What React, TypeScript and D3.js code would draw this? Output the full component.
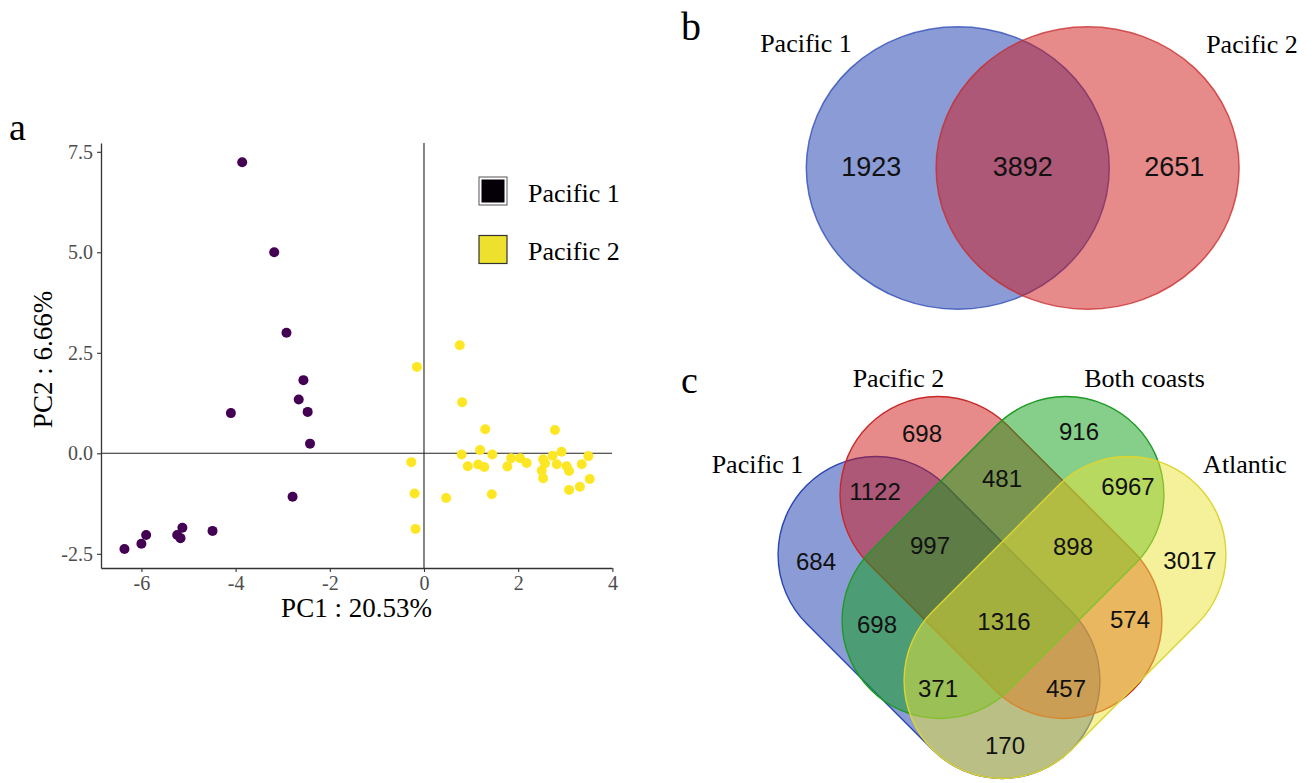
import * as d3 from 'd3';
import { useEffect, useRef } from 'react';

// panel a: PCA scores (PC1, PC2)
const pacific1PC1 = [-3.86, -3.18, -2.92, -2.56, -2.66, -2.47, -2.42, -4.10, -2.79, -4.49, -5.13, -5.24, -5.17, -5.90, -6.00, -6.36];
const pacific1PC2 = [7.24, 5.0, 3.0, 1.82, 1.34, 1.03, 0.24, 1.0, -1.08, -1.93, -1.85, -2.03, -2.11, -2.03, -2.25, -2.38];
const pacific2PC1 = [0.76, -0.15, 0.81, 1.30, 0.80, 1.19, 1.45, 0.93, 1.15, 1.28, -0.27, -0.20, 0.47, 1.44, -0.18, 1.77, 1.85, 2.04, 2.18, 2.78, 2.92, 2.73, 2.53, 2.57, 2.50, 2.53, 2.82, 3.03, 3.08, 3.35, 3.49, 3.52, 3.31, 3.08];
const pacific2PC2 = [2.69, 2.15, 1.27, 0.60, -0.03, 0.08, -0.03, -0.32, -0.28, -0.34, -0.22, -1.0, -1.11, -1.02, -1.88, -0.33, -0.12, -0.12, -0.24, 0.58, 0.04, -0.06, -0.15, -0.25, -0.43, -0.62, -0.27, -0.32, -0.44, -0.27, -0.07, -0.64, -0.83, -0.91];
const groupNames = ['Pacific 1', 'Pacific 2'];
const xTicks = [-6, -4, -2, 0, 2, 4];
const yTicks = [-2.5, 0, 2.5, 5, 7.5];
const xTitle = 'PC1 : 20.53%';
const yTitle = 'PC2 : 6.66%';

// panel b: two-set venn
const pairSets = ['Pacific 1', 'Pacific 2'];
const pairCounts = [1923, 3892, 2651]; // only 1, both, only 2

// panel c: four-set venn, region key = membership in quadSets
const quadSets = ['Pacific 1', 'Pacific 2', 'Both coasts', 'Atlantic'];
const quadRegions = ['1000', '0100', '0010', '0001', '1100', '0110', '0011', '1110', '0111', '1010', '1111', '0101', '1011', '1101', '1001'];
const quadCounts = [684, 698, 916, 3017, 1122, 481, 6967, 997, 898, 698, 1316, 574, 371, 457, 170];

const SERIF = '"Liberation Serif", "Times New Roman", serif';
const SANS = '"Liberation Sans", Arial, sans-serif';
const PURPLE = '#440154';
const YELLOW = '#FDE725';
const vennFill = ['#1537AD', '#CD1515', '#0D9F15', '#E9E335'];
const vennStroke = ['#2A45B5', '#C82828', '#1E9A24', '#DCD530'];

// label offsets (px) from the 4-set venn centre
const quadLabelPos = {
  '1000': [-186, 4], '0100': [-80, -124], '0010': [77, -126], '0001': [188, 3],
  '1100': [-127, -66], '0110': [0, -79], '0011': [126, -71],
  '1110': [-72, -12], '0111': [71, -11],
  '1010': [-125, 67], '1111': [2, 64], '0101': [128, 62],
  '1011': [-64, 131], '1101': [64, 131], '1001': [3, 188],
};

const fmtTick = (f) => (d) => f(d).replace('\u2212', '-');

const drawScatter = (svg) => {
  const left = 101, right = 612, top = 143, bottom = 568;
  const x = d3.scaleLinear([-6.858, 3.992], [left, right]);
  const y = d3.scaleLinear([-2.853, 7.719], [bottom, top]);
  const g = svg.append('g');

  // zero lines
  g.append('line').attr('x1', x(0)).attr('x2', x(0)).attr('y1', top).attr('y2', bottom)
    .attr('stroke', '#222').attr('stroke-width', 1.1);
  g.append('line').attr('x1', left).attr('x2', right).attr('y1', y(0)).attr('y2', y(0))
    .attr('stroke', '#222').attr('stroke-width', 1.1);

  const styleAxis = (a) => {
    a.select('.domain').attr('stroke', '#333').attr('stroke-width', 1.3);
    a.selectAll('.tick line').attr('stroke', '#333').attr('stroke-width', 1.1);
    a.selectAll('.tick text').attr('fill', '#4D4D4D').attr('font-size', 20).attr('font-family', SERIF);
  };

  g.append('g')
    .attr('transform', `translate(${left},0)`)
    .call(d3.axisLeft(y).tickValues(yTicks).tickFormat(fmtTick(d3.format('.1f'))).tickSize(4).tickSizeOuter(0).tickPadding(4))
    .call(styleAxis);
  g.append('g')
    .attr('transform', `translate(0,${bottom})`)
    .call(d3.axisBottom(x).tickValues(xTicks).tickFormat(fmtTick(d3.format('d'))).tickSize(4).tickSizeOuter(0).tickPadding(4))
    .call(styleAxis);

  g.append('text').attr('x', (left + right) / 2).attr('y', 617)
    .attr('text-anchor', 'middle').attr('font-family', SERIF).attr('font-size', 27).text(xTitle);
  g.append('text').attr('transform', `translate(52,${(top + bottom) / 2 + 4}) rotate(-90)`)
    .attr('text-anchor', 'middle').attr('font-family', SERIF).attr('font-size', 27).text(yTitle);

  const groups = [
    { xs: pacific1PC1, ys: pacific1PC2, color: PURPLE },
    { xs: pacific2PC1, ys: pacific2PC2, color: YELLOW },
  ];
  groups.forEach((grp) => {
    g.append('g').selectAll('circle')
      .data(d3.zip(grp.xs, grp.ys))
      .join('circle')
      .attr('cx', (d) => x(d[0]))
      .attr('cy', (d) => y(d[1]))
      .attr('r', 5)
      .attr('fill', grp.color);
  });

  // legend
  const leg = g.append('g').attr('transform', 'translate(479,177)');
  groupNames.forEach((name, i) => {
    const row = leg.append('g').attr('transform', `translate(0,${i * 58.5})`);
    if (i === 0) {
      row.append('rect').attr('width', 28).attr('height', 28).attr('fill', '#fff').attr('stroke', '#555').attr('stroke-width', 1);
      row.append('rect').attr('x', 2.5).attr('y', 2.5).attr('width', 23).attr('height', 23).attr('fill', '#050008');
    } else {
      row.append('rect').attr('width', 28).attr('height', 28).attr('fill', '#EDE12E').attr('stroke', '#333').attr('stroke-width', 1.2);
    }
    row.append('text').attr('x', 49).attr('y', 24.5).attr('font-family', SERIF).attr('font-size', 26).text(name);
  });

  svg.append('text').attr('x', 9).attr('y', 140).attr('font-family', SERIF).attr('font-size', 38).text('a');
};

const drawPair = (svg) => {
  const cx = [957.8, 1087.6], cy = 168, rx = 151.5, ry = 141.3;
  const g = svg.append('g');
  pairSets.forEach((_, i) => {
    g.append('ellipse').attr('cx', cx[i]).attr('cy', cy).attr('rx', rx).attr('ry', ry)
      .attr('fill', vennFill[i]).attr('fill-opacity', 0.5)
      .attr('stroke', vennStroke[i]).attr('stroke-opacity', 0.75).attr('stroke-width', 1.5);
  });
  const edges = [cx[0] - rx, cx[1] - rx, cx[0] + rx, cx[1] + rx];
  const labelX = [0, 1, 2].map((k) => (edges[k] + edges[k + 1]) / 2);
  g.selectAll('text.count').data(pairCounts).join('text')
    .attr('class', 'count')
    .attr('x', (_, k) => labelX[k]).attr('y', 176)
    .attr('text-anchor', 'middle').attr('font-family', SANS).attr('font-size', 27).attr('fill', '#111')
    .text((d) => d);
  g.append('text').attr('x', 806).attr('y', 52).attr('text-anchor', 'middle')
    .attr('font-family', SERIF).attr('font-size', 26).text(pairSets[0]);
  g.append('text').attr('x', 1252).attr('y', 53).attr('text-anchor', 'middle')
    .attr('font-family', SERIF).attr('font-size', 26).text(pairSets[1]);
  svg.append('text').attr('x', 681).attr('y', 40).attr('font-family', SERIF).attr('font-size', 40).text('b');
};

const drawQuad = (svg) => {
  const C = [1002, 557.5];
  // capsule shapes: half straight length + cap radius
  const half = 89, R = 98;
  const shapes = [
    { dx: -63, dy: 60, rot: 45 },
    { dx: -1, dy: 0, rot: 45 },
    { dx: 1, dy: 0, rot: -45 },
    { dx: 63, dy: 60, rot: -45 },
  ];
  const g = svg.append('g');
  quadSets.forEach((_, i) => {
    const s = shapes[i];
    g.append('rect')
      .attr('transform', `translate(${C[0] + s.dx},${C[1] + s.dy}) rotate(${s.rot})`)
      .attr('x', -(half + R)).attr('y', -R)
      .attr('width', 2 * (half + R)).attr('height', 2 * R)
      .attr('rx', R).attr('ry', R)
      .attr('fill', vennFill[i]).attr('fill-opacity', 0.5)
      .attr('stroke', vennStroke[i]).attr('stroke-width', 1.4);
  });
  g.selectAll('text.count').data(d3.zip(quadRegions, quadCounts)).join('text')
    .attr('class', 'count')
    .attr('x', (d) => C[0] + quadLabelPos[d[0]][0])
    .attr('y', (d) => C[1] + quadLabelPos[d[0]][1])
    .attr('dy', '0.36em')
    .attr('text-anchor', 'middle').attr('font-family', SANS).attr('font-size', 24).attr('fill', '#111')
    .text((d) => d[1]);

  const setLabels = [[757.5, 473], [898.5, 387], [1144.5, 387], [1245, 473]];
  quadSets.forEach((name, i) => {
    g.append('text').attr('x', setLabels[i][0]).attr('y', setLabels[i][1]).attr('text-anchor', 'middle')
      .attr('font-family', SERIF).attr('font-size', 26).text(name);
  });
  svg.append('text').attr('x', 681).attr('y', 393).attr('font-family', SERIF).attr('font-size', 38).text('c');
};

export default function App() {
  const svgRef = useRef(null);

  useEffect(() => {
    const svg = d3.select(svgRef.current);
    svg.selectAll('*').remove();
    drawScatter(svg);
    drawPair(svg);
    drawQuad(svg);
  }, []);

  return (
    <svg ref={svgRef} width={1316} height={783}
      style={{ position: 'absolute', left: 0, top: 0, background: '#fff' }} />
  );
}
